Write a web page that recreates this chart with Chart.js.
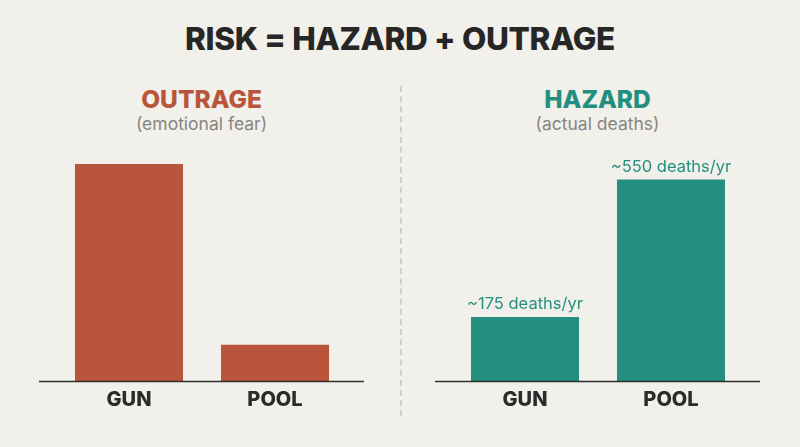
<!DOCTYPE html>
<html>
<head>
<meta charset="utf-8">
<script src="https://cdn.jsdelivr.net/npm/chart.js"></script>
<style>
  body { margin:0; background:#f2f0ea; font-family: Inter, "Noto Sans", sans-serif; }
  #wrap { position:relative; width:800px; height:447px; overflow:hidden; }
  .t { position:absolute; text-align:center; white-space:nowrap; }
  #title { left:0; width:800px; top:19px; font-size:31.5px; font-weight:800; color:#262626; letter-spacing:-0.3px; }
  .head { font-size:24.5px; font-weight:800; width:325px; }
  .sub { font-size:17.5px; color:#878580; width:325px; }
  #divider { position:absolute; left:400px; top:86px; height:330px; border-left:2px dashed #d3cfc6; }
  canvas { position:absolute; }
</style>
</head>
<body>
<div id="wrap">
  <div id="title" class="t">RISK = HAZARD + OUTRAGE</div>
  <div class="t head" style="left:39px; top:84px; color:#b9553a;">OUTRAGE</div>
  <div class="t sub" style="left:39px; top:113px;">(emotional fear)</div>
  <div class="t head" style="left:435px; top:84px; color:#23907f;">HAZARD</div>
  <div class="t sub" style="left:435px; top:113px;">(actual deaths)</div>
  <div id="divider"></div>
  <div style="position:absolute; left:39px; top:140px; width:325px; height:279px;"><canvas id="outrageChart"></canvas></div>
  <div style="position:absolute; left:435px; top:140px; width:325px; height:279px;"><canvas id="hazardChart"></canvas></div>
</div>
<script>
var categories = ["GUN", "POOL"];
var outrageValues = [90, 15];          // relative emotional fear (no unit)
var hazardValues = [175, 550];         // deaths per year
var hazardLabels = ["~175 deaths/yr", "~550 deaths/yr"];

// baseline across the whole canvas, wider than the bars' area
var baseLine = {
  id: 'baseLine',
  afterDatasetsDraw: function(chart) {
    var ctx = chart.ctx;
    var y = chart.scales.y.getPixelForValue(0);
    ctx.save();
    ctx.strokeStyle = '#2e2e2e';
    ctx.lineWidth = 1.5;
    ctx.beginPath();
    ctx.moveTo(0, y + 0.5);
    ctx.lineTo(chart.width, y + 0.5);
    ctx.stroke();
    ctx.restore();
  }
};

var valueLabels = {
  id: 'valueLabels',
  afterDatasetsDraw: function(chart, args, opts) {
    if (!opts.labels) return;
    var ctx = chart.ctx;
    var meta = chart.getDatasetMeta(0);
    ctx.save();
    ctx.fillStyle = opts.color;
    ctx.font = '16.5px Inter, "Noto Sans", sans-serif';
    ctx.textAlign = 'center';
    ctx.textBaseline = 'middle';
    meta.data.forEach(function(bar, i) {
      ctx.fillText(opts.labels[i], bar.x, bar.y - 13);
    });
    ctx.restore();
  }
};

function makeChart(id, values, color, yMax, labels) {
  return new Chart(document.getElementById(id), {
    type: 'bar',
    data: {
      labels: categories,
      datasets: [{ data: values, backgroundColor: color, borderWidth: 0,
                   barPercentage: 0.74, categoryPercentage: 1.0 }]
    },
    options: {
      responsive: true,
      maintainAspectRatio: false,
      animation: false,
      layout: { padding: { left: 17, right: 16, top: 0, bottom: 0 } },
      plugins: {
        legend: { display: false },
        tooltip: { enabled: false },
        valueLabels: { labels: labels, color: color }
      },
      scales: {
        x: {
          grid: { display: false, drawTicks: false },
          border: { display: false },
          ticks: { color: '#2b2b2b', padding: 7,
                   font: { family: 'Inter, "Noto Sans", sans-serif', size: 20, weight: '800' } }
        },
        y: { display: false, min: 0, max: yMax }
      }
    },
    plugins: [baseLine, valueLabels]
  });
}

makeChart('outrageChart', outrageValues, '#b9553a', 100, null);
makeChart('hazardChart', hazardValues, '#23907f', 658, hazardLabels);
</script>
</body>
</html>
